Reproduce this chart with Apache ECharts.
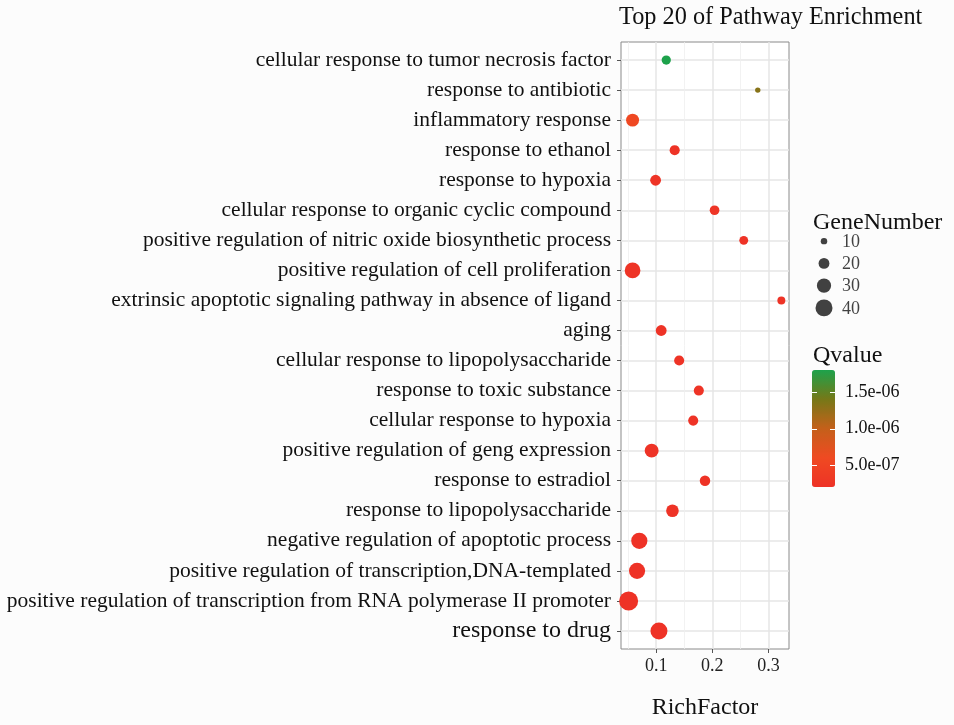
<!DOCTYPE html>
<html><head><meta charset="utf-8">
<script src="https://cdn.jsdelivr.net/npm/echarts@6/dist/echarts.min.js"></script>
<style>html,body{margin:0;padding:0;background:#fcfcfc}#c{width:954px;height:725px}</style>
</head><body><div id="c"></div>
<script>
// Data (top-to-bottom order as in the chart)
const categories = [
  'cellular response to tumor necrosis factor',
  'response to antibiotic',
  'inflammatory response',
  'response to ethanol',
  'response to hypoxia',
  'cellular response to organic cyclic compound',
  'positive regulation of nitric oxide biosynthetic process',
  'positive regulation of cell proliferation',
  'extrinsic apoptotic signaling pathway in absence of ligand',
  'aging',
  'cellular response to lipopolysaccharide',
  'response to toxic substance',
  'cellular response to hypoxia',
  'positive regulation of geng expression',
  'response to estradiol',
  'response to lipopolysaccharide',
  'negative regulation of apoptotic process',
  'positive regulation of transcription,DNA-templated',
  'positive regulation of transcription from RNA polymerase II promoter',
  'response to drug'
];
const richFactor = [0.118, 0.281, 0.058, 0.133, 0.099, 0.204, 0.256, 0.058, 0.323, 0.109,
                    0.141, 0.176, 0.166, 0.092, 0.187, 0.129, 0.070, 0.066, 0.051, 0.105];
const geneNumber = [16, 8, 26, 18, 20, 17, 15, 35, 13, 20,
                    18, 18, 18, 29, 19, 25, 37, 37, 48, 40];
const qValue = [1.81e-6, 1.32e-6, 5.6e-7, 2.2e-7, 2.3e-7, 2.4e-7, 2.2e-7, 2.3e-7, 2.2e-7, 2.2e-7,
                2.1e-7, 2.3e-7, 2.2e-7, 2.2e-7, 2.2e-7, 2.2e-7, 2.05e-7, 2.0e-7, 1.97e-7, 2.0e-7];
const xTickValues = [0.1, 0.2, 0.3];
const xMinorValues = [0.05, 0.15, 0.25];
const sizeLegendValues = [10, 20, 30, 40];
const qTickValues = [5e-7, 1e-6, 1.5e-6];

const serif = 'Liberation Serif';
const rMin = Math.min(...richFactor), rMax = Math.max(...richFactor);
const X_MIN = rMin - 0.05 * (rMax - rMin), X_MAX = rMax + 0.05 * (rMax - rMin);
const Q_MIN = Math.min(...qValue), Q_MAX = Math.max(...qValue);
const idx = categories.map((c, i) => i);
const sizeFn = v => 3.32 * Math.sqrt(v[2]) - 4;
const fmtQ = v => {
  const s = Number(v).toExponential(1); const [m, e] = s.split('e');
  const n = parseInt(e, 10); const a = Math.abs(n);
  return m + 'e' + (n < 0 ? '-' : '+') + (a < 10 ? '0' + a : a);
};
const txt = (size) => ({fontFamily: serif, fontSize: size, fontWeight: 'normal', color: '#111'});

const chart = echarts.init(document.getElementById('c'));
chart.setOption({
  animation: false,
  backgroundColor: '#fcfcfc',
  textStyle: {fontFamily: serif},
  title: [
    {text: 'Top 20 of Pathway Enrichment', left: 619, top: 6, padding: 0, textStyle: txt(24.3)},
    {text: 'GeneNumber', left: 813, top: 211, padding: 0, textStyle: txt(24)},
    {text: 'Qvalue', left: 813, top: 344, padding: 0, textStyle: txt(24)}
  ],
  grid: [
    {left: 621, top: 42, width: 168, height: 614, show: true, backgroundColor: '#ffffff', borderColor: '#8a8a8a', borderWidth: 1},
    {left: 814, top: 230, width: 20, height: 89},
    {left: 812, top: 370, width: 23, height: 117}
  ],
  xAxis: [
    {gridIndex: 0, type: 'value', min: X_MIN, max: X_MAX, position: 'bottom',
     axisLine: {show: false, onZero: false},
     axisTick: {show: true, customValues: xTickValues, length: 4, lineStyle: {color: '#555'}},
     axisLabel: {customValues: xTickValues, fontSize: 18, color: '#222', margin: 8, fontFamily: serif},
     splitLine: {show: true, lineStyle: {color: '#e6e6e6', width: 1.5}},
     name: 'RichFactor', nameLocation: 'middle', nameGap: 47, nameTextStyle: txt(24)},
    {gridIndex: 1, type: 'value', min: -1, max: 1, show: false},
    {gridIndex: 2, type: 'value', min: 0, max: 1, show: false}
  ],
  yAxis: [
    {gridIndex: 0, type: 'value', min: -0.6, max: categories.length - 0.4, inverse: true,
     axisLine: {show: false, onZero: false},
     axisTick: {show: true, customValues: idx, length: 4, lineStyle: {color: '#555'}},
     axisLabel: {customValues: idx, fontSize: 21.5, color: '#111', margin: 10, fontFamily: serif,
       formatter: v => { const name = categories[Math.round(v)];
         return name === 'response to drug' ? '{big|' + name + '}' : name; },
       rich: {big: {fontSize: 24, fontFamily: serif, color: '#111'}}},
     splitLine: {show: true, lineStyle: {color: '#e6e6e6', width: 1.5}}},
    {gridIndex: 1, type: 'value', min: -0.5, max: 3.5, inverse: true, show: false},
    {gridIndex: 2, type: 'value', min: Q_MIN, max: Q_MAX, position: 'right', z: 10,
     axisLine: {show: false, onZero: false},
     axisTick: {show: true, inside: true, customValues: qTickValues, length: 5, lineStyle: {color: '#ffffff', width: 1}},
     axisLabel: {customValues: qTickValues, formatter: fmtQ, fontSize: 18, color: '#111', margin: 10, fontFamily: serif},
     splitLine: {show: false}},
    {gridIndex: 2, type: 'value', min: Q_MIN, max: Q_MAX, position: 'left', z: 10,
     axisLine: {show: false, onZero: false},
     axisTick: {show: true, inside: true, customValues: qTickValues, length: 5, lineStyle: {color: '#ffffff', width: 1}},
     axisLabel: {show: false},
     splitLine: {show: false}}
  ],
  visualMap: {
    type: 'continuous', seriesIndex: 0, dimension: 3, min: Q_MIN, max: Q_MAX,
    left: 812, top: 370, itemWidth: 23, itemHeight: 117, padding: 0,
    calculable: false, hoverLink: false,
    inRange: {color: ['#EE3226', '#EF4A22', '#C4601A', '#767818', '#1DA24B']}
  },
  series: [
    {type: 'scatter', xAxisIndex: 0, yAxisIndex: 0, z: 3,
     data: categories.map((c, i) => [richFactor[i], i, geneNumber[i], qValue[i]]),
     symbolSize: sizeFn, itemStyle: {opacity: 1}},
    {type: 'scatter', xAxisIndex: 1, yAxisIndex: 1,
     data: sizeLegendValues.map((v, i) => [0, i, v]),
     symbolSize: sizeFn, itemStyle: {color: '#111'},
     label: {show: true, position: 'inside', align: 'left', offset: [18, 1],
       formatter: p => String(p.data[2]), fontSize: 18, color: '#111', fontFamily: serif}},
    {type: 'scatter', xAxisIndex: 0, yAxisIndex: 0, z: 1, data: [], silent: true,
     markLine: {silent: true, symbol: 'none', z: 1, label: {show: false},
       lineStyle: {color: '#efefef', width: 0.8, type: 'solid'},
       data: xMinorValues.map(v => ({xAxis: v}))}}
  ]
});
</script>
</body></html>
